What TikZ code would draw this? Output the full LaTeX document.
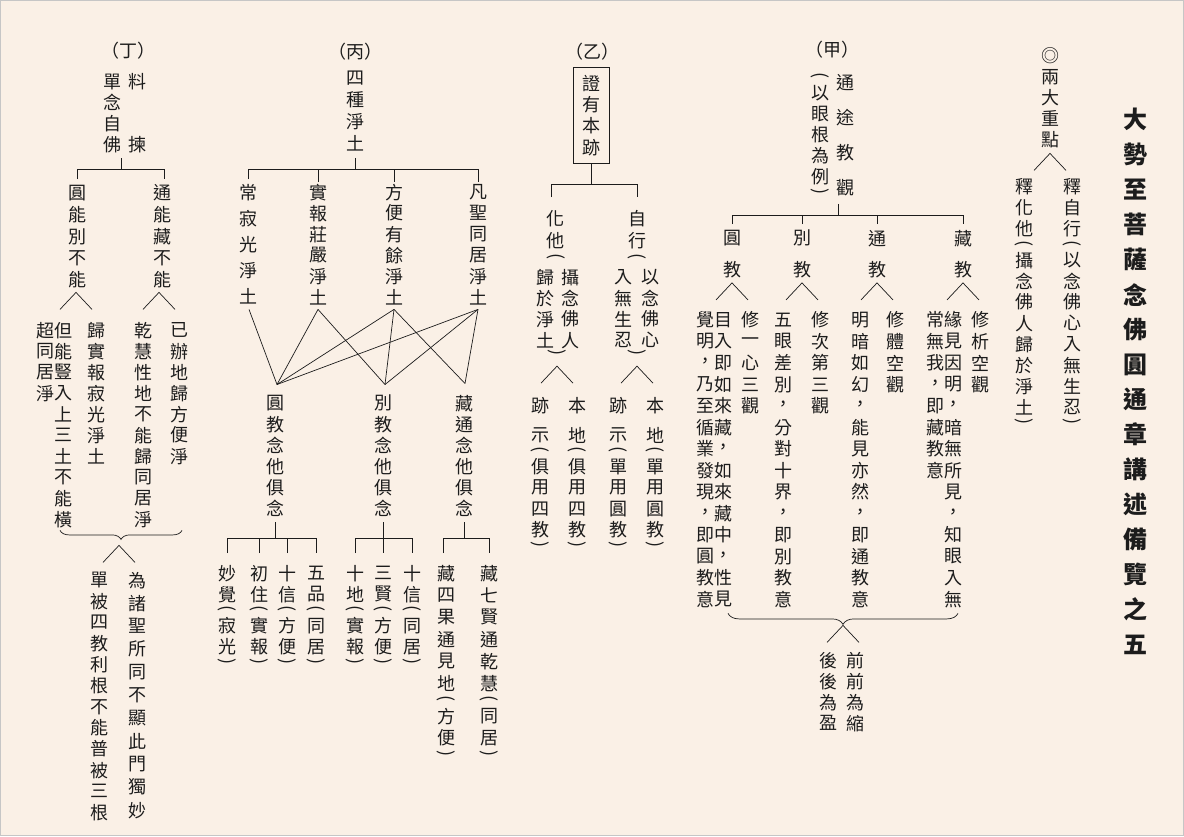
\documentclass[tikz,border=0pt]{standalone}
\usepackage{fontspec}
\setmainfont{Noto Sans CJK TC}
\usepackage{graphicx}
\usepackage{tikz}
\usetikzlibrary{positioning, calc, decorations.pathreplacing}
\definecolor{paper}{RGB}{250,240,230}
\definecolor{inkgray}{RGB}{28,28,28}

% vertical column of characters, one cell per character
\newlength\vpitch
\newcommand\vcol[2][21.5pt]{\setlength\vpitch{#1}\vbox{\offinterlineskip\vcolStep#2\relax}}
\def\vcolStep#1{\ifx\relax#1\else\vcolCell{#1}\expandafter\vcolStep\fi}
\def\vcolCell#1{\ifx︵#1\vcolBox{.5\vpitch}{\rotatebox[origin=c]{-90}{(}}\else
  \ifx︶#1\vcolBox{.5\vpitch}{\rotatebox[origin=c]{-90}{)}}\else\vcolBox{\vpitch}{#1}\fi\fi}
\def\vcolBox#1#2{\vbox to #1{\vss\hbox to 1em{\hss#2\hss}\vss}}

\begin{document}
\begin{tikzpicture}[x=1pt, y=-1pt,
  col/.style={inner sep=0pt, anchor=north, text=inkgray, font=\fontsize{18}{20}\selectfont},
  headline/.style={col, font=\fontsize{24}{28}\selectfont\bfseries},
  tag/.style={inner sep=0pt, text=inkgray, font=\fontsize{18}{20}\selectfont},
  wire/.style={draw=inkgray, line width=0.7pt},
  curly/.style={wire, decorate, decoration={brace, amplitude=#1}},
  fork/.pic={\draw[wire] (-16,17) -- (0,0) -- (16,17);}
]
  \fill[paper] (0,0) rectangle (1184,836);
  \useasboundingbox (0,0) rectangle (1184,836);
  \draw[gray!45, line width=0.8pt] (0.4,0.4) rectangle (1183.6,835.6);

  % Title
  \node[headline] (title) at (1135,102) {\vcol[35pt]{大勢至菩薩念佛圓通章講述備覽之五}};

  % Two key points
  \node[col] (keys) at (1050,45) {\vcol[21pt]{◎兩大重點}};
  \pic at ($(keys.south)+(0,3)$) {fork};
  \node[col] (keys-self) at (1072,176) {\vcol[21pt]{釋自行︵以念佛心入無生忍︶}};
  \node[col] (keys-other) at (1024,176) {\vcol[21pt]{釋化他︵攝念佛人歸於淨土︶}};

  % (甲) general contemplation
  \node[tag] (jia) at (832,50) {（甲）};
  \node[col] (jia-head) at (845,64.5) {\vcol[35pt]{通途教觀}};
  \node[col] (jia-note) at (820,71.5) {\vcol[21pt]{︵以眼根為例︶}};
  \node[col] (jia-yuan) at (732,222.5) {\vcol[31pt]{圓教}};
  \node[col] (jia-bie) at (802,222.5) {\vcol[31pt]{別教}};
  \node[col] (jia-tong) at (877,222.5) {\vcol[31pt]{通教}};
  \node[col] (jia-zang) at (963,222.5) {\vcol[31pt]{藏教}};
  \coordinate (jia-bar) at ($(jia-head.south)+(-7,10)$);
  \draw[wire] ($(jia-head.south)+(-7,-1)$) -- (jia-bar);
  \draw[wire] ($(jia-yuan.north)+(0,1.5)$) |- (jia-bar) -| ($(jia-zang.north)+(0,1.5)$);
  \draw[wire] ($(jia-bie.north)+(0,1.5)$) -- (jia-bie.north |- jia-bar);
  \draw[wire] ($(jia-tong.north)+(0,1.5)$) -- (jia-tong.north |- jia-bar);
  \foreach \n in {yuan, bie, tong, zang}
    \pic at ($(jia-\n.south)+(0,-2)$) {fork};

  \node[col] (jia-yuan-a) at (750,309) {\vcol{修一心三觀}};
  \node[col] (jia-yuan-b) at (723,309) {\vcol{目入即如來藏，如來藏中，性見}};
  \node[col] (jia-yuan-c) at (705,309) {\vcol{覺明，乃至循業發現，即圓教意}};
  \node[col] (jia-bie-a) at (820,309) {\vcol{修次第三觀}};
  \node[col] (jia-bie-b) at (783,309) {\vcol{五眼差別，分對十界，即別教意}};
  \node[col] (jia-tong-a) at (895,309) {\vcol{修體空觀}};
  \node[col] (jia-tong-b) at (860,309) {\vcol{明暗如幻，能見亦然，即通教意}};
  \node[col] (jia-zang-a) at (980,309) {\vcol{修析空觀}};
  \node[col] (jia-zang-b) at (953,309) {\vcol{緣見因明，暗無所見，知眼入無}};
  \node[col] (jia-zang-c) at (935,309) {\vcol{常無我，即藏教意}};

  \coordinate (jia-l) at ($(jia-yuan-b.south)+(5,3)$);
  \coordinate (jia-r) at ($(jia-zang-b.south)+(5,3)$);
  \draw[curly=11pt] (jia-r) -- (jia-l);
  \pic at ($(jia-l)!.5!(jia-r)+(0,12)$) {fork};
  \node[col] (jia-qian) at (855,649.5) {\vcol[21pt]{前前為縮}};
  \node[col] (jia-hou) at (828,649.5) {\vcol[21pt]{後後為盈}};

  % (乙) proof of origin and trace
  \node[tag] (yi) at (592,52) {（乙）};
  \node[col, draw=inkgray, line width=0.7pt, inner xsep=9pt, inner ysep=5.3pt] (yi-head) at (591,67) {\vcol[21.3pt]{證有本跡}};
  \node[col] (yi-hua) at (555,207) {\vcol[22pt]{化他}};
  \node[col] (yi-zi) at (637,207) {\vcol[22pt]{自行}};
  \coordinate (yi-bar) at ($(yi-head.south)+(0,21)$);
  \draw[wire] (yi-head.south) -- (yi-bar);
  \draw[wire] ($(yi-hua.north)+(-4,-10)$) |- (yi-bar) -| ($(yi-zi.north)+(0,-10)$);

  \node[col] (yi-hua-l) at (556,252) {\vcol{︵}};
  \node[col] (yi-hua-a) at (570,266.5) {\vcol[21pt]{攝念佛人}};
  \node[col] (yi-hua-b) at (545,266.5) {\vcol[21pt]{歸於淨土}};
  \node[col] (yi-hua-r) at (557,348) {\vcol{︶}};
  \pic at ($(yi-hua-r.south)+(0,7)$) {fork};
  \node[col] (yi-zi-l) at (637,252) {\vcol{︵}};
  \node[col] (yi-zi-a) at (650,266.5) {\vcol[21pt]{以念佛心}};
  \node[col] (yi-zi-b) at (623,266.5) {\vcol[21pt]{入無生忍}};
  \node[col] (yi-zi-r) at (637,348) {\vcol{︶}};
  \pic at ($(yi-zi-r.south)+(0,7)$) {fork};

  \node[col] (yi-a1) at (540,394.5) {\vcol[21pt]{跡}};
  \node[col] (yi-a2) at (540,424.5) {\vcol[21pt]{示︵俱用四教︶}};
  \node[col] (yi-b1) at (577,394.5) {\vcol[21pt]{本}};
  \node[col] (yi-b2) at (577,424.5) {\vcol[21pt]{地︵俱用四教︶}};
  \node[col] (yi-c1) at (618,394.5) {\vcol[21pt]{跡}};
  \node[col] (yi-c2) at (618,424.5) {\vcol[21pt]{示︵單用圓教︶}};
  \node[col] (yi-d1) at (655,394.5) {\vcol[21pt]{本}};
  \node[col] (yi-d2) at (655,424.5) {\vcol[21pt]{地︵單用圓教︶}};

  % (丙) four pure lands
  \node[tag] (bing) at (355,52) {（丙）};
  \node[col] (bing-head) at (355,67.5) {\vcol{四種淨土}};
  \coordinate (bing-bar) at ($(bing-head.south)+(0,15)$);
  \draw[wire] ($(bing-head.south)+(0,4)$) -- (bing-bar);
  \node[col] (bing-cj) at (248,179) {\vcol[26pt]{常寂光淨土}};
  \node[col] (bing-bb) at (318,181.5) {\vcol[21pt]{實報莊嚴淨土}};
  \node[col] (bing-fb) at (394,181.5) {\vcol[21pt]{方便有餘淨土}};
  \node[col] (bing-fs) at (478,181.5) {\vcol[21pt]{凡聖同居淨土}};
  \draw[wire] (bing-cj.north) |- (bing-bar) -| (bing-fs.north);
  \draw[wire] (bing-bb.north) -- (bing-bb.north |- bing-bar);
  \draw[wire] (bing-fb.north) -- (bing-fb.north |- bing-bar);

  \node[col] (bing-yn) at (275,392.5) {\vcol[21pt]{圓教念他俱念}};
  \node[col] (bing-bn) at (383,392.5) {\vcol[21pt]{別教念他俱念}};
  \node[col] (bing-zn) at (464,392.5) {\vcol[21pt]{藏通念他俱念}};
  \coordinate (cj-foot) at ($(bing-cj.south)+(1,0)$);
  \coordinate (bb-foot) at ($(bing-bb.south)+(0,1.5)$);
  \coordinate (fb-foot) at ($(bing-fb.south)+(0,1.5)$);
  \coordinate (fs-foot) at ($(bing-fs.south)+(0,1.5)$);
  \coordinate (yn-top) at ($(bing-yn.north)+(2,-8)$);
  \coordinate (bn-top) at ($(bing-bn.north)+(2,-8)$);
  \coordinate (zn-top) at ($(bing-zn.north)+(1,-9)$);
  \foreach \a/\b in {cj/yn, bb/yn, bb/bn, fb/yn, fb/bn, fb/zn, fs/yn, fs/bn, fs/zn}
    \draw[wire] (\a-foot) -- (\b-top);

  \node[col] (yn-miao) at (227,562.5) {\vcol[21pt]{妙覺︵寂光︶}};
  \node[col] (yn-chu) at (259,562.5) {\vcol[21pt]{初住︵實報︶}};
  \node[col] (yn-shi) at (287,562.5) {\vcol[21pt]{十信︵方便︶}};
  \node[col] (yn-wu) at (316,562.5) {\vcol[21pt]{五品︵同居︶}};
  \coordinate (yn-bar) at ($(bing-yn.south)+(0,19.5)$);
  \draw[wire] ($(bing-yn.south)+(0,3.5)$) -- (yn-bar);
  \draw[wire] ($(yn-miao.north)+(0,-9.5)$) |- (yn-bar) -| ($(yn-wu.north)+(0,-9.5)$);
  \draw[wire] ($(yn-chu.north)+(0,-9.5)$) -- (yn-chu.north |- yn-bar);
  \draw[wire] ($(yn-shi.north)+(0,-9.5)$) -- (yn-shi.north |- yn-bar);

  \node[col] (bn-di) at (355,562.5) {\vcol[21pt]{十地︵實報︶}};
  \node[col] (bn-san) at (383,562.5) {\vcol[21pt]{三賢︵方便︶}};
  \node[col] (bn-xin) at (412,562.5) {\vcol[21pt]{十信︵同居︶}};
  \coordinate (bn-bar) at ($(bing-bn.south)+(0,19.5)$);
  \draw[wire] ($(bing-bn.south)+(0,3.5)$) -- ($(bn-san.north)+(0,-9.5)$);
  \draw[wire] ($(bn-di.north)+(0,-9.5)$) |- (bn-bar) -| ($(bn-xin.north)+(0,-9.5)$);

  \node[col] (zn-si) at (446,562) {\vcol[22pt]{藏四果通見地︵方便︶}};
  \node[col] (zn-qi) at (489,562) {\vcol[22pt]{藏七賢通乾慧︵同居︶}};
  \coordinate (zn-bar) at ($(bing-zn.south)+(0,19.5)$);
  \draw[wire] ($(bing-zn.south)+(0,3.5)$) -- (zn-bar);
  \draw[wire] ($(zn-si.north)+(-3,-9)$) |- (zn-bar) -| ($(zn-qi.north)+(0,-9)$);

  % (丁) sorting out single recitation
  \node[tag] (ding) at (128,51) {（丁）};
  \node[col] (ding-head) at (112,71) {\vcol[21pt]{單念自佛}};
  \node[col] (ding-note) at (137,71) {\vcol[21pt]{料　　揀}};
  \coordinate (ding-bar) at ($(ding-head.south)!.5!(ding-note.south)+(-3.5,14)$);
  \draw[wire] ($(ding-head.south)!.5!(ding-note.south)+(-3.5,3)$) -- (ding-bar);
  \node[col] (ding-yuan) at (77,182) {\vcol[21.7pt]{圓能別不能}};
  \node[col] (ding-tong) at (162,182) {\vcol[21.7pt]{通能藏不能}};
  \draw[wire] ($(ding-yuan.north)+(0,-3)$) |- (ding-bar) -| ($(ding-tong.north)+(2,-3)$);
  \pic at ($(ding-yuan.south)+(-1,1.5)$) {fork};
  \pic at ($(ding-tong.south)+(-3,1.5)$) {fork};

  \node[col] (ding-a) at (96,319.5) {\vcol[21pt]{歸實報寂光淨土}};
  \node[col] (ding-b) at (63,319.5) {\vcol[21pt]{但能豎入上三土不能橫}};
  \node[col] (ding-c) at (45,319.5) {\vcol[21pt]{超同居淨}};
  \node[col] (ding-d) at (179,319.5) {\vcol[21pt]{已辦地歸方便淨}};
  \node[col] (ding-e) at (143,319.5) {\vcol[21pt]{乾慧性地不能歸同居淨}};

  \coordinate (ding-l) at ($(ding-b.south)+(-3,0.5)$);
  \coordinate (ding-r) at ($(ding-e.south)+(39,0.5)$);
  \draw[curly=9pt] (ding-r) -- (ding-l);
  \pic at ($(ding-l)!.5!(ding-r)+(-2,15)$) {fork};
  \node[col] (ding-f) at (137,568.5) {\vcol[23pt]{為諸聖所同不顯此門獨妙}};
  \node[col] (ding-g) at (99,569.5) {\vcol[21.1pt]{單被四教利根不能普被三根}};
\end{tikzpicture}
\end{document}
